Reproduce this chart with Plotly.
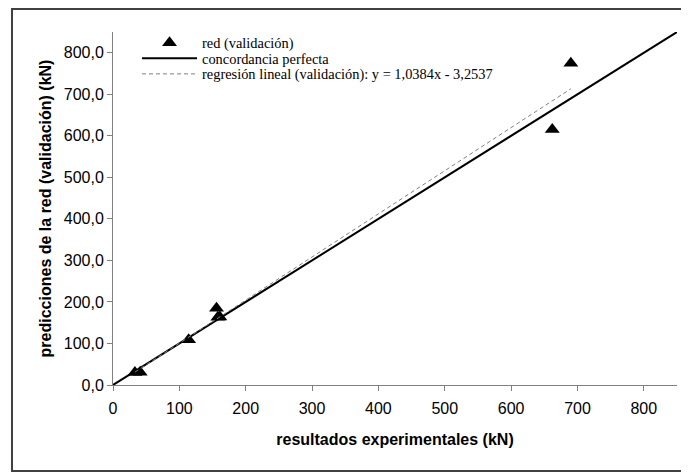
import plotly.graph_objects as go

# Data
exp_kN = [33, 41, 114, 156, 158, 161, 662, 690]          # resultados experimentales
pred_kN = [30, 31, 109, 185, 163, 164, 615, 775]          # predicciones de la red
slope = 1.0384
intercept = -3.2537
axis_range = [0, 850]
tick_vals = [0, 100, 200, 300, 400, 500, 600, 700, 800]

reg_x = [min(exp_kN), max(exp_kN)]
reg_y = [slope * v + intercept for v in reg_x]

fig = go.Figure()
fig.add_trace(go.Scatter(
    x=exp_kN, y=pred_kN, mode="markers",
    marker=dict(symbol="triangle-up", size=13, color="black"),
    name="red (validación)", legend="legend"))
fig.add_trace(go.Scatter(
    x=axis_range, y=axis_range, mode="lines",
    line=dict(color="black", width=2),
    name="concordancia perfecta", legend="legend2"))
fig.add_trace(go.Scatter(
    x=reg_x, y=reg_y, mode="lines",
    line=dict(color="#808080", width=1, dash="4px,3px"),
    name="regresión lineal (validación): y = 1,0384x - 3,2537", legend="legend3"))

leg_common = dict(font=dict(family="Liberation Serif", size=14.4, color="black"),
                  bgcolor="rgba(0,0,0,0)", borderwidth=0, itemwidth=55,
                  xanchor="left", yanchor="middle", x=0.0426)
fig.update_layout(
    width=689, height=473,
    margin=dict(l=105, r=20, t=24, b=96, autoexpand=False),
    paper_bgcolor="white", plot_bgcolor="white",
    separators=",.",
    showlegend=True,
    legend=dict(**leg_common, y=0.9688),
    legend2=dict(**leg_common, y=0.925),
    legend3=dict(**leg_common, y=0.881),
    xaxis=dict(range=axis_range, tickvals=tick_vals, showgrid=False, zeroline=False,
               automargin=False,
               showline=True, linecolor="#808080", linewidth=1,
               ticks="outside", ticklen=5, tickcolor="#808080", ticklabelstandoff=4,
               tickfont=dict(family="Liberation Sans", size=16, color="black"),
               title=dict(text="<b>resultados experimentales (kN)</b>", standoff=17,
                          font=dict(family="Liberation Sans", size=16, color="black"))),
    yaxis=dict(range=axis_range, tickvals=tick_vals, tickformat=".1f", showgrid=False,
               automargin=False,
               zeroline=False, showline=True, linecolor="#808080", linewidth=1,
               ticks="outside", ticklen=5, tickcolor="#808080",
               tickfont=dict(family="Liberation Sans", size=16, color="black"),
               title=dict(text="<b>predicciones de la red (validación) (kN)</b>", standoff=8,
                          font=dict(family="Liberation Sans", size=16, color="black"))),
    shapes=[dict(type="rect", xref="paper", yref="paper",
                 x0=-0.1791, x1=1.0142, y0=-0.2436, y1=1.0652,
                 line=dict(color="#404040", width=2), fillcolor="rgba(0,0,0,0)")],
)

fig.write_html("out.html")
